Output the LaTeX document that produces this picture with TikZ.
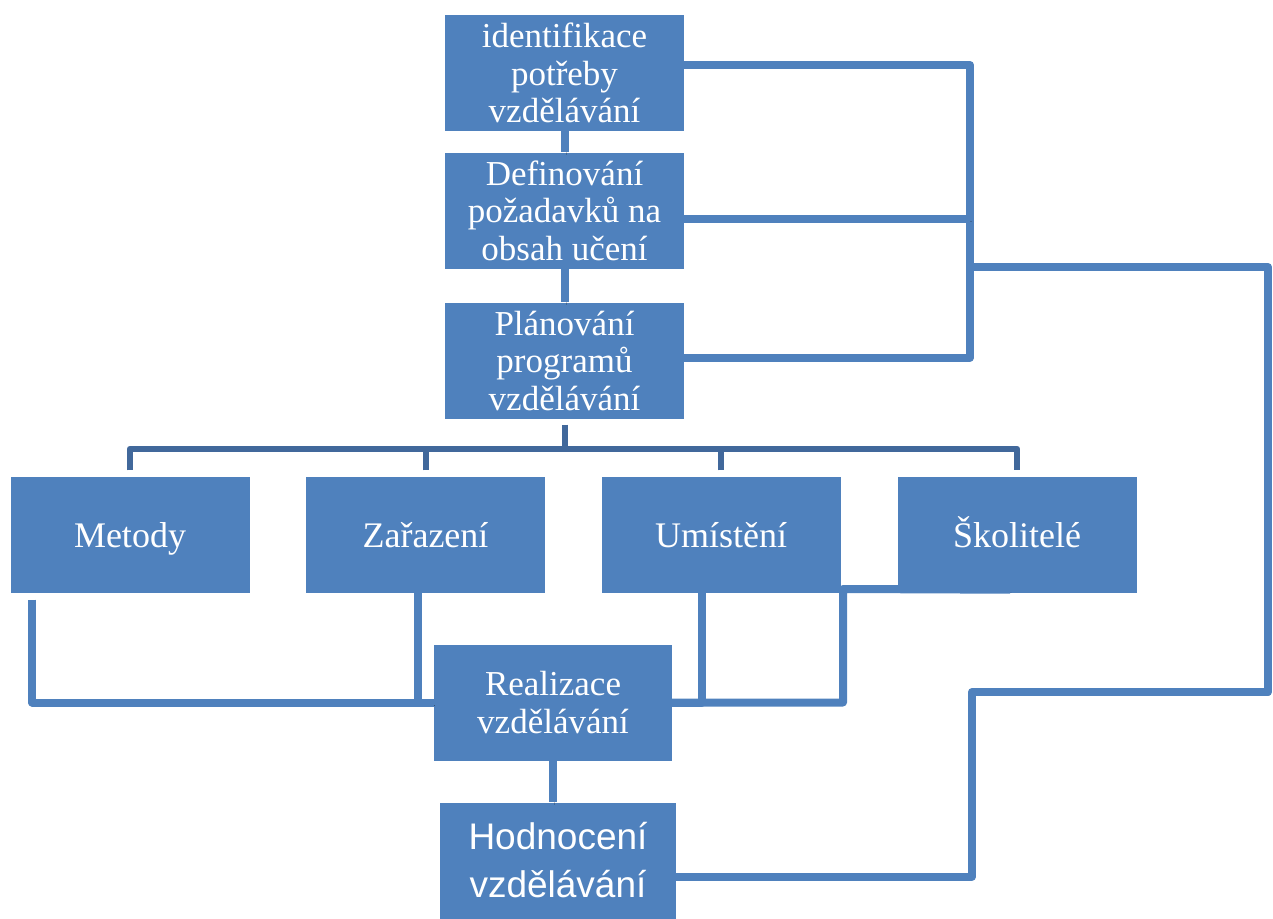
\documentclass[tikz,border=0pt]{standalone}
\usepackage{fontspec}
\setmainfont{Liberation Serif}
\newfontfamily\hodnfont{Liberation Sans}
\usepackage{xcolor}
\usepackage{tikz}
\definecolor{boxblue}{RGB}{79,129,189}
\definecolor{busblue}{RGB}{65,104,155}

\begin{document}
\begin{tikzpicture}[
  x=1pt, y=-1pt,
  box/.style={rectangle, fill=boxblue, text=white, inner sep=0pt,
    minimum width=239pt, minimum height=116pt, align=center,
    font=\fontsize{35}{37.5}\selectfont},
  single/.style={font=\fontsize{36}{37.5}\selectfont, text height=30pt, text depth=5pt},
  link/.style={draw=boxblue, line width=8pt, line join=round,
    preaction={draw=black, opacity=0.2, transform canvas={xshift=1.5pt, yshift=-3pt}}},
  bus/.style={draw=busblue, line width=6pt, line join=round}
]
  \useasboundingbox (0,0) rectangle (1273,918);

  \node[box] (ident) at (564.5,73) {identifikace\\potřeby\\vzdělávání};
  \node[box] (defin) at (564.5,210.5) {Definování\\požadavků na\\obsah učení};
  \node[box] (plan) at (564.5,360.5) {Plánování\\programů\\vzdělávání};
  \node[box, single] (metody) at (130,534.5) {Metody};
  \node[box, single] (zar) at (425.5,534.5) {Zařazení};
  \node[box, single] (umis) at (721,534.5) {Umístění};
  \node[box, single] (skol) at (1017,534.5) {Školitelé};
  \node[box, minimum width=238pt] (real) at (553,702.5) {Realizace\\vzdělávání};
  \node[box, minimum width=236pt, font=\hodnfont\fontsize{37}{48}\selectfont]
    (hodn) at (558,860.5) {Hodnocení\\vzdělávání};

  \draw[link] (ident.south) -- (defin.north);
  \draw[link] (defin.south) -- (plan.north);

  \coordinate (rjoin) at (970,267);
  \coordinate (rfar) at (1268,692);
  \coordinate (rlow) at (972,692);
  \draw[link] ([yshift=8pt]ident.east) -| (rjoin) |- ([yshift=3pt]plan.east);
  \draw[link] ([yshift=-8pt]defin.east) -- ([yshift=-8pt]defin.east -| rjoin);
  \draw[link] (rjoin) -| (rfar) -- (rlow) |- ([yshift=-16pt]hodn.east);

  \draw[bus] ([yshift=-6pt]plan.south) -- ++(0,24) coordinate (bus);
  \draw[bus] ([yshift=6pt]metody.north) |- (bus) -| ([yshift=6pt]skol.north);
  \foreach \n in {zar,umis}
    \draw[bus] ([yshift=6pt]\n.north) -- (bus -| \n.north);

  \coordinate (kink) at (843,589);
  \draw[link] ([xshift=22pt,yshift=-7pt]metody.south west) |- (real.west);
  \draw[link] ([xshift=-7.5pt,yshift=5pt]zar.south) |- (real.west);
  \draw[link] ([xshift=-19pt,yshift=3pt]umis.south) |- (real.east);
  \draw[link] ([xshift=-7pt,yshift=3pt]skol.south) -- (kink) |- (real.east);
  \draw[link] (real.south) -- (real.south |- hodn.north);
\end{tikzpicture}
\end{document}
